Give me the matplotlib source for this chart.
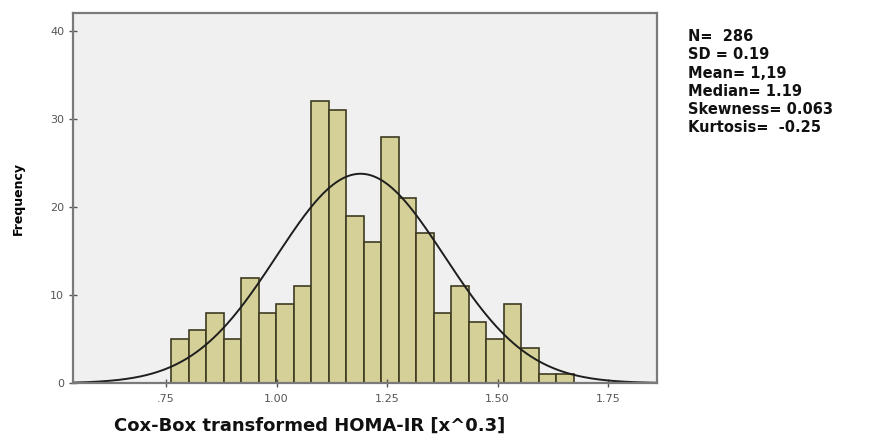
import matplotlib
matplotlib.use("Agg")
import matplotlib.pyplot as plt
import numpy as np

# histogram counts, bins of ~0.04 starting near .76
bin_start = 0.762
bin_width = 0.0396
counts = [5, 6, 8, 5, 12, 8, 9, 11, 32, 31, 19, 16, 28, 21, 17, 8, 11, 7, 5, 9, 4, 1, 1]

n_total = 286
mean_val = 1.19
sd_val = 0.19

x_ticks = [0.75, 1.00, 1.25, 1.50, 1.75]
x_tick_labels = [".75", "1.00", "1.25", "1.50", "1.75"]
y_ticks = [0, 10, 20, 30, 40]

stats_lines = ["N=  286", "SD = 0.19", "Mean= 1,19", "Median= 1.19",
               "Skewness= 0.063", "Kurtosis=  -0.25"]

plt.rcParams["font.family"] = ["DejaVu Sans"]

fig = plt.figure(figsize=(8.71, 4.43), dpi=100)
ax = fig.add_axes([0.084, 0.135, 0.670, 0.836])
ax.set_facecolor("#f0f0f0")

edges = bin_start + bin_width * np.arange(len(counts) + 1)
ax.bar(edges[:-1], counts, width=bin_width, align="edge",
       color="#d5cf98", edgecolor="#3e3b22", linewidth=1.2)

# normal curve scaled to the histogram
xs = np.linspace(0.54, 1.86, 400)
scale = n_total * bin_width
ys = scale * np.exp(-0.5 * ((xs - mean_val) / sd_val) ** 2) / (sd_val * np.sqrt(2 * np.pi))
ax.plot(xs, ys, color="#1e1e1e", linewidth=1.4)

ax.set_xlim(0.54, 1.86)
ax.set_ylim(0, 42.05)
ax.set_xticks(x_ticks)
ax.set_xticklabels(x_tick_labels)
ax.set_yticks(y_ticks)
ax.tick_params(axis="both", labelsize=8, colors="#555555", direction="inout",
               length=6, width=1.0)
ax.tick_params(axis="x", pad=5)
for spine in ax.spines.values():
    spine.set_color("#7a7a7a")
    spine.set_linewidth(1.6)

ax.set_ylabel("Frequency", fontsize=9, fontweight="bold", labelpad=18)

fig.text(0.131, 0.04, "Cox-Box transformed HOMA-IR [x^0.3]", fontsize=13,
         fontweight="bold", ha="left", va="center", color="#111111")

for i, line in enumerate(stats_lines):
    fig.text(0.79, 0.917 - i * 0.041, line, fontsize=10.5, fontweight="bold",
             ha="left", va="center", color="#111111")

fig.savefig("out.png", dpi=100)
